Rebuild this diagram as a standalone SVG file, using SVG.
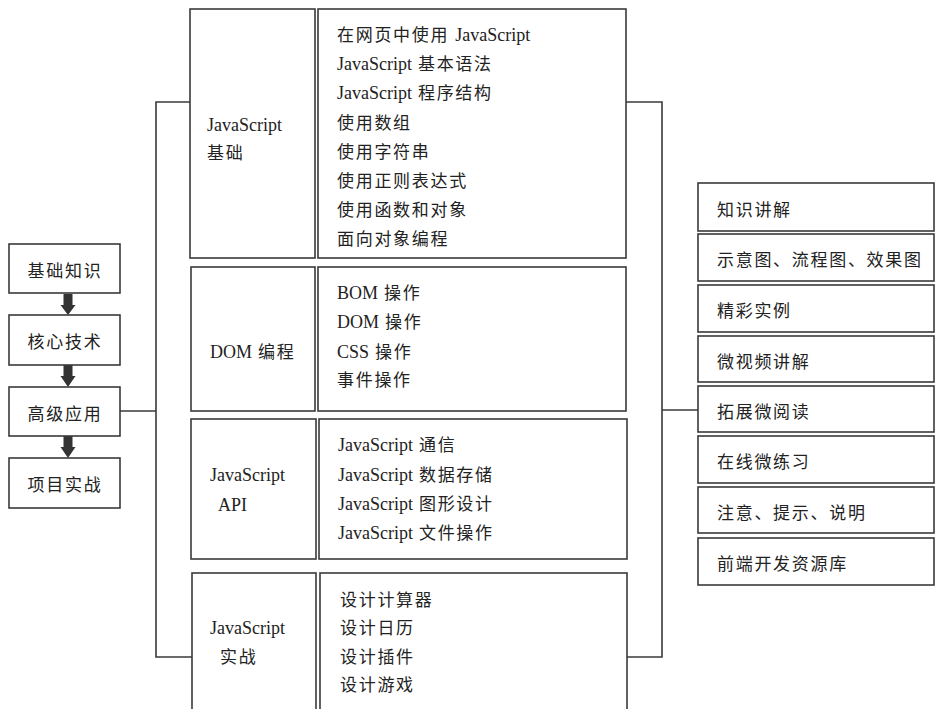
<svg xmlns="http://www.w3.org/2000/svg" width="936" height="709" viewBox="0 0 936 709">
<style>
.box{fill:#fff;stroke:#3a3a3a;stroke-width:1.6}
.ln{fill:none;stroke:#3a3a3a;stroke-width:1.6}
.t{font-family:"Liberation Serif","Noto Sans CJK SC",serif;font-size:17px;fill:#222;letter-spacing:1.7px}
.lat{font-family:"Liberation Serif","Noto Sans CJK SC",serif;font-size:18px;letter-spacing:0}
.arr{fill:#333}
</style>
<rect width="936" height="709" fill="#fff"/>
<g id="connectors">
<line class="ln" x1="120" y1="411" x2="156" y2="411"/>
<polyline class="ln" points="190,102 156,102 156,657 192,657"/>
<polyline class="ln" points="626,102 662,102 662,657 627,657"/>
<line class="ln" x1="662" y1="410" x2="698" y2="410"/>
<polygon class="arr" points="63.5,294 72.5,294 72.5,305 75.5,305 68,315 60.5,305 63.5,305"/>
<polygon class="arr" points="63.5,365 72.5,365 72.5,376 75.5,376 68,387 60.5,376 63.5,376"/>
<polygon class="arr" points="63.5,436 72.5,436 72.5,447 75.5,447 68,458 60.5,447 63.5,447"/>
</g>
<g id="n-basic"><rect class="box" x="9" y="244" width="111" height="49"/><text class="t" x="65" y="277" text-anchor="middle">基础知识</text></g>
<g id="n-core"><rect class="box" x="9" y="315" width="111" height="50"/><text class="t" x="65" y="348" text-anchor="middle">核心技术</text></g>
<g id="n-adv"><rect class="box" x="9" y="387" width="111" height="49"/><text class="t" x="65" y="420" text-anchor="middle">高级应用</text></g>
<g id="n-proj"><rect class="box" x="9" y="458" width="111" height="50"/><text class="t" x="65" y="491" text-anchor="middle">项目实战</text></g>

<g id="g1-label"><rect class="box" x="190" y="9" width="125" height="249"/>
<text class="t" x="207" y="131"><tspan class="lat">JavaScript</tspan></text>
<text class="t" x="207" y="159">基础</text></g>
<g id="g1-items"><rect class="box" x="318" y="9" width="308" height="249"/>
<text class="t" x="337" y="41">在网页中使用 <tspan class="lat">JavaScript</tspan></text>
<text class="t" x="337" y="70"><tspan class="lat">JavaScript</tspan> 基本语法</text>
<text class="t" x="337" y="99"><tspan class="lat">JavaScript</tspan> 程序结构</text>
<text class="t" x="337" y="129">使用数组</text>
<text class="t" x="337" y="158">使用字符串</text>
<text class="t" x="337" y="187">使用正则表达式</text>
<text class="t" x="337" y="216">使用函数和对象</text>
<text class="t" x="337" y="245">面向对象编程</text></g>

<g id="g2-label"><rect class="box" x="191" y="267" width="124" height="144"/>
<text class="t" x="210" y="358"><tspan class="lat">DOM</tspan> 编程</text></g>
<g id="g2-items"><rect class="box" x="318" y="267" width="308" height="144"/>
<text class="t" x="337" y="299"><tspan class="lat">BOM</tspan> 操作</text>
<text class="t" x="337" y="328"><tspan class="lat">DOM</tspan> 操作</text>
<text class="t" x="337" y="358"><tspan class="lat">CSS</tspan> 操作</text>
<text class="t" x="337" y="386">事件操作</text></g>

<g id="g3-label"><rect class="box" x="191" y="419" width="125" height="140"/>
<text class="t" x="210" y="481"><tspan class="lat">JavaScript</tspan></text>
<text class="t" x="218" y="511"><tspan class="lat">API</tspan></text></g>
<g id="g3-items"><rect class="box" x="319" y="419" width="308" height="140"/>
<text class="t" x="338" y="451"><tspan class="lat">JavaScript</tspan> 通信</text>
<text class="t" x="338" y="481"><tspan class="lat">JavaScript</tspan> 数据存储</text>
<text class="t" x="338" y="510"><tspan class="lat">JavaScript</tspan> 图形设计</text>
<text class="t" x="338" y="539"><tspan class="lat">JavaScript</tspan> 文件操作</text></g>

<g id="g4-label"><rect class="box" x="192" y="573" width="124" height="150"/>
<text class="t" x="210" y="634"><tspan class="lat">JavaScript</tspan></text>
<text class="t" x="220" y="663">实战</text></g>
<g id="g4-items"><rect class="box" x="320" y="573" width="307" height="150"/>
<text class="t" x="340" y="606">设计计算器</text>
<text class="t" x="340" y="634">设计日历</text>
<text class="t" x="340" y="663">设计插件</text>
<text class="t" x="340" y="691">设计游戏</text></g>

<g id="r1"><rect class="box" x="698" y="183" width="236" height="48"/><text class="t" x="717" y="216">知识讲解</text></g>
<g id="r2"><rect class="box" x="698" y="234" width="236" height="47"/><text class="t" x="717" y="266">示意图、流程图、效果图</text></g>
<g id="r3"><rect class="box" x="698" y="285" width="236" height="47"/><text class="t" x="717" y="317">精彩实例</text></g>
<g id="r4"><rect class="box" x="698" y="336" width="236" height="46"/><text class="t" x="717" y="368">微视频讲解</text></g>
<g id="r5"><rect class="box" x="698" y="386" width="236" height="46"/><text class="t" x="717" y="418">拓展微阅读</text></g>
<g id="r6"><rect class="box" x="698" y="436" width="236" height="47"/><text class="t" x="717" y="468">在线微练习</text></g>
<g id="r7"><rect class="box" x="698" y="487" width="236" height="46"/><text class="t" x="717" y="519">注意、提示、说明</text></g>
<g id="r8"><rect class="box" x="698" y="538" width="236" height="47"/><text class="t" x="717" y="570">前端开发资源库</text></g>
</svg>
